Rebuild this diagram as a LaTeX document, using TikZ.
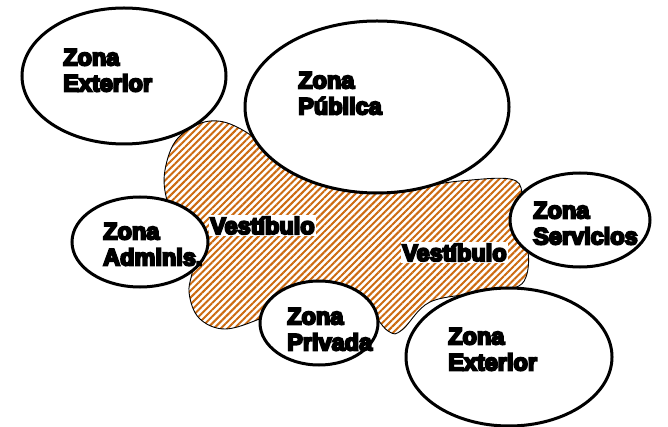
\documentclass[tikz,border=0pt]{standalone}
\usepackage{fontspec}
\newfontfamily\zfont{Liberation Sans Bold}
\newcommand\heavytext[1]{\special{pdf:literal direct 2 Tr 2 w}#1\special{pdf:literal direct 0 Tr}}
\usetikzlibrary{patterns.meta,shapes.geometric}
\definecolor{hatch}{RGB}{204,106,16}
\begin{document}
\begin{tikzpicture}[x=1pt,y=-1pt,
  zone/.style={draw=black,line width=3pt,fill=white,ellipse,inner sep=0pt},
  ztext/.style={anchor=north west,inner sep=0pt,align=left,font=\zfont\fontsize{23.5}{26}\selectfont},
  vtext/.style={anchor=base west,inner sep=1.5pt,fill=white,font=\zfont\fontsize{23.5}{26}\selectfont}]
\useasboundingbox (0,0) rectangle (668,427);
% vestibule blob
\path[draw=black,line width=0.9pt,pattern={Lines[angle=45,distance=4.8pt,line width=2pt]},pattern color=hatch]
  plot[smooth cycle,tension=0.6] coordinates {
   (210,121) (246,132) (300,175) (380,190) (460,181) (510,179) (522,193)
   (518,225) (528,252) (526,277) (514,288) (480,293) (430,302) (402,330)
   (388,331) (360,305) (300,300) (262,318) (225,329) (199,318) (189,292)
   (193,262) (182,228) (167,200) (165,170) (178,138)};
% zones
\node[zone,minimum width=204pt,minimum height=136pt] (ext1) at (124,76) {};
\node[zone,minimum width=264pt,minimum height=172pt] (pub) at (377,107) {};
\node[zone,minimum width=140pt,minimum height=94pt] (serv) at (580,220) {};
\node[zone,minimum width=206pt,minimum height=138pt] (ext2) at (509,357) {};
\node[zone,minimum width=136pt,minimum height=90pt] (adm) at (140,242) {};
\node[zone,minimum width=118pt,minimum height=84pt] (priv) at (319,323) {};
% labels
\node[ztext] (t1) at (63,49) {\heavytext{Zona}\\\heavytext{Exterior}};
\node[ztext] (t2) at (298,72) {\heavytext{Zona}\\\heavytext{Pública}};
\node[ztext] (t3) at (533,202) {\heavytext{Zona}\\\heavytext{Servicios}};
\node[ztext] (t4) at (448,328) {\heavytext{Zona}\\\heavytext{Exterior}};
\node[ztext] (t5) at (103,223) {\heavytext{Zona}\\\heavytext{Adminis.}};
\node[ztext] (t6) at (287,308) {\heavytext{Zona}\\\heavytext{Privada}};
\node[vtext] (v1) at (208.5,234) {\heavytext{Vestíbulo}};
\node[vtext] (v2) at (400.5,261) {\heavytext{Vestíbulo}};
\end{tikzpicture}
\end{document}
